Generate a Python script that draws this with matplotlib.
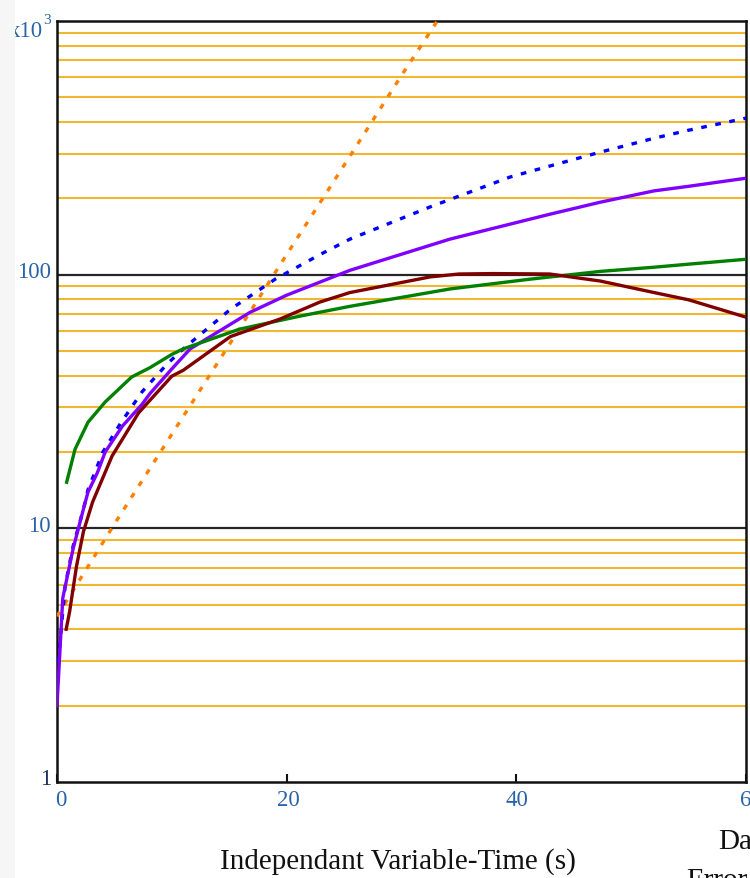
import matplotlib
matplotlib.use("Agg")
import matplotlib.pyplot as plt
from matplotlib.patches import Rectangle

# Series read as (time, value) pairs
orange_t = [0, 5, 10, 15, 20, 25, 30, 34]
orange_v = [4.5, 10.4, 23.5, 53, 120, 270, 610, 1150]

blue_t = [0, 0.7, 1.4, 2.3, 2.7, 4.0, 5.5, 7.4, 9.6, 11, 15.1, 19, 22.9, 25.5,
          32.5, 39.5, 47.3, 52, 55, 60]
blue_v = [2.6, 5.9, 8.5, 11.9, 14.2, 20, 25.8, 34.5, 44.5, 51, 73, 96, 120, 138,
          185, 243, 304, 345, 371, 414]

purple_t = [0, 0.5, 1.4, 2.3, 2.7, 3.5, 4.2, 5.7, 7.4, 8.1, 10, 11.6, 16.8, 20,
            25.5, 34.2, 42.9, 47.3, 52, 55, 60]
purple_v = [2.0, 5.3, 8.3, 11.9, 13.9, 16.5, 20, 25.3, 30.8, 34, 42.5, 51, 71, 83,
            104, 138, 173, 193, 214, 223, 240]

green_t = [0.84, 1.57, 2.7, 4.2, 6.5, 8.1, 10, 11, 15.9, 21.2, 25.5, 34.2, 41.2,
           47.3, 52, 55, 60]
green_v = [15.2, 20.5, 26.2, 31.5, 39.5, 43, 48.5, 51, 61, 68.7, 75, 87.8, 96,
           103, 107, 110, 115]

maroon_t = [0.8, 1.1, 1.7, 2.3, 3.1, 4.8, 7.1, 8.1, 10, 11, 15.1, 19.4, 22.9,
            25.5, 32.5, 35, 38, 42.9, 47.3, 52, 55, 60]
maroon_v = [4.0, 4.7, 7.1, 9.7, 12.7, 19.3, 28.5, 32, 39.8, 42, 57, 66.8, 78,
            85, 98, 100.6, 101, 100.6, 94.4, 85, 79.6, 68]

x_ticks = [0, 20, 40, 60]
x_tick_labels = ["0", "20", "40", "60"]
y_ticks = [1, 10, 100]
y_tick_labels = ["1", "10", "100"]

W, H = 750, 879
fig = plt.figure(figsize=(W / 100, H / 100), dpi=100)
fig.patch.set_facecolor("white")


def fx(px):
    return px / W


def fy(py):
    return 1 - py / H


ax = fig.add_axes([fx(57), fy(783), fx(746) - fx(57), fy(22) - fy(783)])
ax.set_yscale("log")
ax.set_xlim(0, 60)
ax.set_ylim(1, 1000)

# Grid: golden lines at 2..9 of every decade, dark lines at the decades
grid_gold = "#f0b830"
for dec in (1, 10, 100):
    for m in range(2, 10):
        ax.axhline(dec * m, color=grid_gold, lw=1.5, zorder=1)
for dec in (10, 100):
    ax.axhline(dec, color="#262626", lw=1.6, zorder=1.2)

lw = 2.4
ax.plot(orange_t, orange_v, color="#ff8000", lw=lw, ls=(0, (1.6, 2.6)), zorder=3)
ax.plot(blue_t, blue_v, color="#0000ff", lw=lw, ls=(0, (1.7, 2.6)), zorder=3)
ax.plot(purple_t, purple_v, color="#8000ff", lw=lw, zorder=3)
ax.plot(green_t, green_v, color="#008000", lw=lw, zorder=3)
ax.plot(maroon_t, maroon_v, color="#800000", lw=lw, zorder=3)

for s in ax.spines.values():
    s.set_color("#111111")
    s.set_linewidth(1.8)

ax.set_xticks(x_ticks)
ax.set_xticklabels([])
ax.set_yticks(y_ticks)
ax.set_yticklabels([])
ax.yaxis.set_minor_locator(matplotlib.ticker.NullLocator())
ax.tick_params(axis="x", direction="in", length=6, width=1.5, color="#111111")
ax.tick_params(axis="y", length=0)

serif = ["Liberation Serif", "DejaVu Serif"]
tick_col = "#2a64a8"
tfs = 16.5

# x tick labels
x_pix = {0: 61, 20: 288, 40: 517, 60: 751}
for v, lab in zip(x_ticks, x_tick_labels):
    fig.text(fx(x_pix[v]), fy(801), lab, ha="center", va="center", fontsize=tfs,
             family=serif, color=tick_col)

# y tick labels
y_pix = {1: 783, 10: 530, 100: 276}
for v, lab in zip(y_ticks, y_tick_labels):
    fig.text(fx(51), fy(y_pix[v] - 3), lab, ha="right", va="center",
             fontsize=tfs, family=serif, color=tick_col if v != 1 else "#1b2f5a")

# top decade label
fig.text(fx(43), fy(37), "x10", ha="right", va="baseline", fontsize=tfs,
         family=serif, color=tick_col)
fig.text(fx(43), fy(24), "3", ha="left", va="baseline", fontsize=11,
         family=serif, color=tick_col)

fig.text(fx(398), fy(862), "Independant Variable-Time (s)", ha="center",
         va="center", fontsize=21, family=serif, color="#111111")
fig.text(fx(718), fy(849), "Data", ha="left", va="baseline", fontsize=21,
         family=serif, color="#111111")
fig.text(fx(686), fy(888), "Error", ha="left", va="baseline", fontsize=21,
         family=serif, color="#111111")

# faint strip along the left edge
fig.patches.append(Rectangle((0, 0), fx(15), 1, transform=fig.transFigure,
                             facecolor="#f6f6f6", edgecolor="none", zorder=10))

fig.savefig("out.png", dpi=100, facecolor="white")
